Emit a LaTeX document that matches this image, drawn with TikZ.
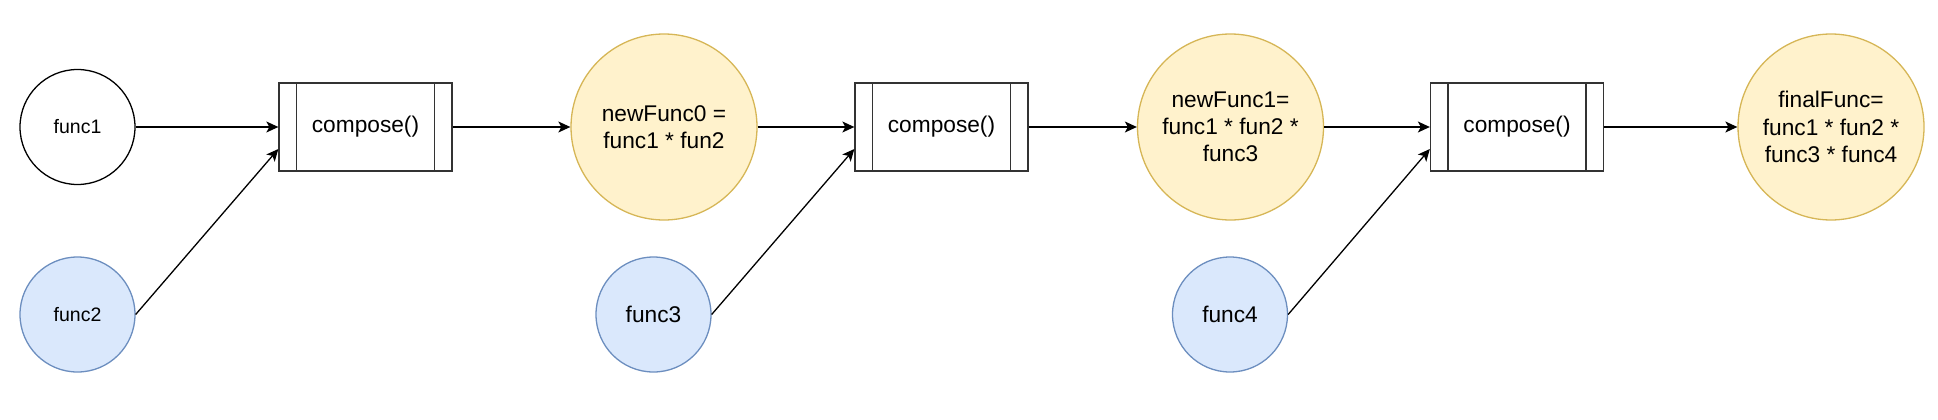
\documentclass[tikz,border=0pt]{standalone}
\usepackage{fontspec}
\setmainfont{Liberation Sans}
\usepackage{tikz}
\usetikzlibrary{arrows.meta,shapes}

\definecolor{yellowfill}{HTML}{FFF2CC}
\definecolor{yellowline}{HTML}{D6B656}
\definecolor{bluefill}{HTML}{DAE8FC}
\definecolor{blueline}{HTML}{6C8EBF}
\definecolor{boxline}{HTML}{333333}

\begin{document}
\begin{tikzpicture}[x=1pt,y=-1pt,->,>={Stealth[length=12pt,width=11pt,inset=3pt]},
  line width=1.3pt,
  in node/.style={circle,draw,minimum size=115pt,inner sep=0pt,
    font=\fontsize{19.5}{23.4}\selectfont},
  blue node/.style={in node,draw=blueline,fill=bluefill,
    font=\fontsize{22.7}{27.2}\selectfont},
  out node/.style={circle,draw=yellowline,fill=yellowfill,minimum size=186pt,
    inner sep=0pt,align=center,font=\fontsize{22.7}{27.2}\selectfont},
  compose box/.style={rectangle,draw=boxline,minimum width=173pt,minimum height=88pt,
    font=\fontsize{22.7}{27.2}\selectfont,
    path picture={
      \draw[-,boxline] ([xshift=17.5pt]path picture bounding box.north west)
        -- ([xshift=17.5pt]path picture bounding box.south west);
      \draw[-,boxline] ([xshift=-17.5pt]path picture bounding box.north east)
        -- ([xshift=-17.5pt]path picture bounding box.south east);}}]

  \useasboundingbox (0,0) rectangle (1938,420);

  \node[in node] (f1) at (77.5,127) {func1};
  \node[in node,draw=blueline,fill=bluefill] (f2) at (77.5,314.5) {func2};
  \node[compose box] (c1) at (365.5,127) {compose()};
  \node[out node] (n0) at (664,127) {newFunc0 =\\func1 * fun2};
  \node[blue node] (f3) at (653.5,314.5) {func3};
  \node[compose box] (c2) at (941.5,127) {compose()};
  \node[out node] (n1) at (1230.5,127) {newFunc1=\\func1 * fun2 *\\func3};
  \node[blue node] (f4) at (1230,314.5) {func4};
  \node[compose box] (c3) at (1517,127) {compose()};
  \node[out node] (fin) at (1831,127) {finalFunc=\\func1 * fun2 *\\func3 * func4};

  \path
    (f1) edge (c1)
    (f2.east) edge ([yshift=-22pt]c1.west)
    (c1) edge (n0)
    (n0) edge (c2)
    (f3.east) edge ([yshift=-22pt]c2.west)
    (c2) edge (n1)
    (n1) edge (c3)
    (f4.east) edge ([yshift=-22pt]c3.west)
    (c3) edge (fin);
\end{tikzpicture}
\end{document}
